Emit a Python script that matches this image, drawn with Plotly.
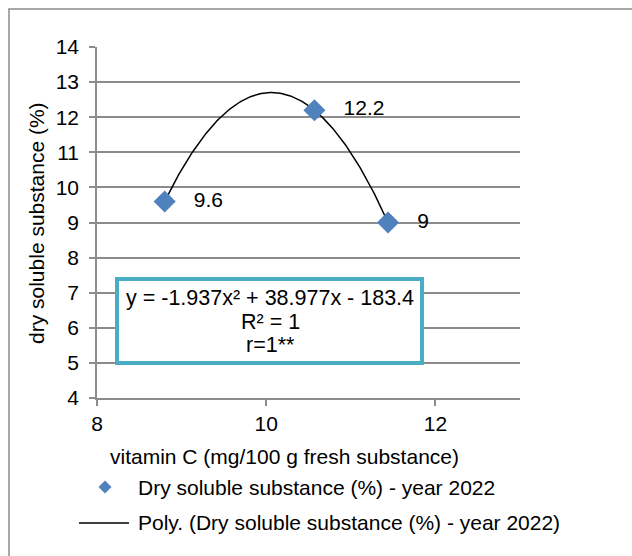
import numpy as np
import plotly.graph_objects as go

# data
vitamin_c = [8.8, 10.57, 11.44]
dry_soluble = [9.6, 12.2, 9.0]
series_name = "Dry soluble substance (%) - year 2022"
trend_name = "Poly. (Dry soluble substance (%) - year 2022)"
x_title = "vitamin C (mg/100 g fresh substance)"
y_title = "dry soluble substance (%)"
eq_lines = ["y = -1.937x² + 38.977x - 183.4", "R² = 1", "r=1**"]

FONT = "Liberation Sans, Arial, sans-serif"
FS = 21
W, H = 632, 556
L, R, T, B = 97, 112, 47, 158
PW, PH = W - L - R, H - T - B


def px(x):
    return (x - L) / PW


def py(y):
    return (H - B - y) / PH


coef = np.polyfit(vitamin_c, dry_soluble, 2)
xs = np.linspace(min(vitamin_c), max(vitamin_c), 200)
ys = np.polyval(coef, xs)

fig = go.Figure()
fig.add_trace(go.Scatter(x=xs, y=ys, mode="lines",
                         line=dict(color="black", width=1.5), showlegend=False,
                         hoverinfo="skip"))
fig.add_trace(go.Scatter(x=vitamin_c, y=dry_soluble, mode="markers+text",
                         marker=dict(symbol="diamond", size=17, color="#4F81BD"),
                         text=["   " + f"{v:g}" for v in dry_soluble],
                         textposition="middle right",
                         textfont=dict(family=FONT, size=FS, color="black"),
                         showlegend=False, cliponaxis=False))

shapes = []
# outer chart border (left + top)
shapes.append(dict(type="path", xref="paper", yref="paper",
                   path=f"M {px(9)},{py(600)} L {px(9)},{py(9)} L {px(700)},{py(9)}",
                   line=dict(color="#8C8C8C", width=1.5), layer="above"))
# equation box
shapes.append(dict(type="rect", xref="paper", yref="paper",
                   x0=px(117), x1=px(422), y0=py(363), y1=py(279),
                   line=dict(color="#4BACC6", width=4), fillcolor="white",
                   layer="above"))
# legend marker (diamond)
cx, cy, d = 105, 487, 6.5
shapes.append(dict(type="path", xref="paper", yref="paper",
                   path=(f"M {px(cx)},{py(cy-d)} L {px(cx+d)},{py(cy)} "
                         f"L {px(cx)},{py(cy+d)} L {px(cx-d)},{py(cy)} Z"),
                   fillcolor="#4F81BD", line=dict(width=0), layer="above"))
# legend line
shapes.append(dict(type="line", xref="paper", yref="paper",
                   x0=px(79), x1=px(129), y0=py(523), y1=py(523),
                   line=dict(color="black", width=1.5), layer="above"))

annotations = []
for i, t in enumerate(eq_lines):
    annotations.append(dict(xref="paper", yref="paper", x=px(270), y=py(298 + 23.5 * i),
                            text=t, showarrow=False, xanchor="center", yanchor="middle",
                            font=dict(family=FONT, size=FS + 0.5, color="black")))
annotations.append(dict(xref="paper", yref="paper", x=px(284), y=py(456),
                        text=x_title, showarrow=False, xanchor="center", yanchor="middle",
                        font=dict(family=FONT, size=FS, color="black")))
annotations.append(dict(xref="paper", yref="paper", x=px(37), y=py(223),
                        text=y_title, showarrow=False, textangle=-90,
                        xanchor="center", yanchor="middle",
                        font=dict(family=FONT, size=FS, color="black")))
annotations.append(dict(xref="paper", yref="paper", x=px(136), y=py(487),
                        text=series_name, showarrow=False, xanchor="left", yanchor="middle",
                        font=dict(family=FONT, size=FS, color="black")))
annotations.append(dict(xref="paper", yref="paper", x=px(136), y=py(522),
                        text=trend_name, showarrow=False, xanchor="left", yanchor="middle",
                        font=dict(family=FONT, size=FS, color="black")))

fig.update_layout(
    width=W, height=H,
    margin=dict(l=L, r=R, t=T, b=B, pad=0),
    paper_bgcolor="white", plot_bgcolor="white",
    shapes=shapes, annotations=annotations,
    showlegend=False,
    font=dict(family=FONT, size=FS, color="black"),
)
fig.update_xaxes(range=[8, 13], tickvals=[8, 10, 12], showgrid=False,
                 showline=True, linecolor="#8C8C8C", linewidth=1.5,
                 ticks="outside", ticklen=6, tickcolor="#8C8C8C", tickwidth=1.5,
                 zeroline=False, tickfont=dict(family=FONT, size=FS, color="black"))
fig.update_yaxes(range=[4, 14], dtick=1, showgrid=True, gridcolor="#8C8C8C", gridwidth=1.5,
                 showline=True, linecolor="#8C8C8C", linewidth=1.5,
                 ticks="outside", ticklen=6, tickcolor="#8C8C8C", tickwidth=1.5,
                 ticklabelstandoff=6,
                 zeroline=False, tickfont=dict(family=FONT, size=FS, color="black"))

fig.write_html("out.html", config={"displayModeBar": False},
               post_script="document.body.style.margin='0';document.body.style.padding='0';")
